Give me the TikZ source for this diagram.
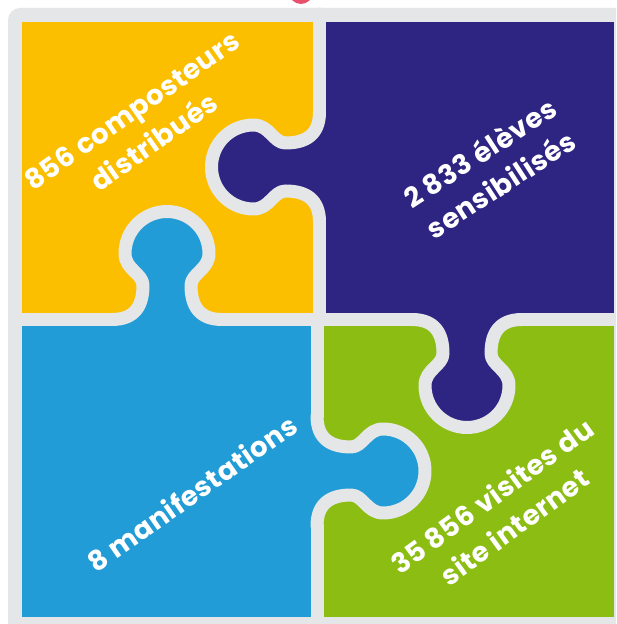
\documentclass[tikz,border=0pt]{standalone}
\usepackage{fontspec}
\setmainfont{Poppins}[LetterSpace=2]
\definecolor{cyellow}{RGB}{251,191,0}
\definecolor{cpurple}{RGB}{46,36,130}
\definecolor{cblue}{RGB}{34,156,214}
\definecolor{cgreen}{RGB}{140,189,18}
\definecolor{cgrey}{RGB}{229,230,232}
\definecolor{cpink}{RGB}{232,80,110}
\newcommand\knobpath{(-55,0) .. controls (-32,0) and (-24,14) .. (-24,34) .. controls (-24,46) and (-42,50) .. (-42,66) arc[start angle=180, end angle=0, radius=42] .. controls (42,50) and (24,46) .. (24,34) .. controls (24,14) and (32,0) .. (55,0)}
\tikzset{
  divider/.style={draw=cgrey, line width=13pt, line cap=round, line join=round},
  label/.style={text=white, font=\bfseries\fontsize{27.5}{38}\selectfont, align=center, inner sep=0pt}
}
\begin{document}
\begin{tikzpicture}[x=1pt,y=1pt]
\useasboundingbox (0,0) rectangle (616,624);
\clip (0,0) rectangle (616,624);
\fill[white] (0,0) rectangle (616,624);
\fill[cpink] (301,632) circle[radius=12];
\fill[cgrey, rounded corners=12pt] (8,-30) rectangle (650,616);
% quadrants
\fill[cyellow] (22,304.5) rectangle (319.5,602);
\fill[cpurple] (319.5,304.5) rectangle (614,602);
\fill[cblue] (22,7) rectangle (317,304.5);
\fill[cgreen] (317,7) rectangle (614,304.5);
% tabs fills
\begin{scope}[shift={(319.5,457)}, rotate=90]
  \fill[cpurple] \knobpath -- (55,-4) -- (-55,-4) -- cycle;
\end{scope}
\begin{scope}[shift={(167,304.5)}]
  \fill[cblue] \knobpath -- (55,-4) -- (-55,-4) -- cycle;
\end{scope}
\begin{scope}[shift={(467,304.5)}, rotate=180]
  \fill[cpurple] \knobpath -- (55,-4) -- (-55,-4) -- cycle;
\end{scope}
\begin{scope}[shift={(317,153)}, rotate=-90]
  \fill[cblue] \knobpath -- (55,-4) -- (-55,-4) -- cycle;
\end{scope}
% dividers
\coordinate (h0) at (15,304.5);
\coordinate (h1) at (112,304.5);
\coordinate (h2) at (222,304.5);
\coordinate (h3) at (412,304.5);
\coordinate (h4) at (522,304.5);
\coordinate (h5) at (616,304.5);
\draw[divider] (h0) -- (h1);
\draw[divider] (h2) -- (h3);
\draw[divider] (h4) -- (h5);
\coordinate (v0) at (319.5,610);
\coordinate (v1) at (319.5,512);
\coordinate (v2) at (319.5,402);
\coordinate (v3) at (319.5,304.5);
\coordinate (w0) at (317,304.5);
\coordinate (w1) at (317,208);
\coordinate (w2) at (317,98);
\coordinate (w3) at (317,0);
\draw[divider] (v0) -- (v1);
\draw[divider] (v2) -- (v3);
\draw[divider] (w0) -- (w1);
\draw[divider] (w2) -- (w3);
\begin{scope}[shift={(319.5,457)}, rotate=90]
  \draw[divider] \knobpath;
\end{scope}
\begin{scope}[shift={(167,304.5)}]
  \draw[divider] \knobpath;
\end{scope}
\begin{scope}[shift={(467,304.5)}, rotate=180]
  \draw[divider] \knobpath;
\end{scope}
\begin{scope}[shift={(317,153)}, rotate=-90]
  \draw[divider] \knobpath;
\end{scope}
% labels
\node[label, rotate=35] (t1) at (143,498) {856 composteurs\\distribués};
\node[label, rotate=33] (t2) at (490,456) {2 833 élèves\\sensibilisés};
\node[label, rotate=35] (t3) at (192,131) {8 manifestations};
\node[label, rotate=36] (t4) at (503,113) {35 856 visites du\\site internet};
\end{tikzpicture}
\end{document}
